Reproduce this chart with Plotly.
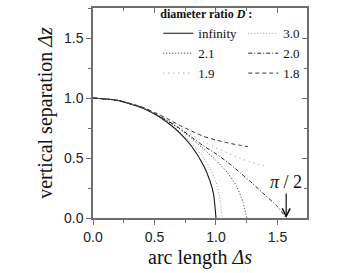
import plotly.graph_objects as go

# ---- data ----
s_inf = [0.0, 0.2, 0.4, 0.5, 0.6, 0.7, 0.8, 0.9, 0.95, 0.98, 1.0]
z_inf = [1.0, 0.98, 0.917, 0.866, 0.80, 0.714, 0.60, 0.436, 0.312, 0.2, 0.0]

s_30 = [0.0, 0.2, 0.4, 0.5, 0.6, 0.7, 0.8, 0.9, 0.95, 1.0, 1.03, 1.05]
z_30 = [1.0, 0.98, 0.918, 0.868, 0.805, 0.725, 0.625, 0.50, 0.42, 0.30, 0.18, 0.0]

s_21 = [0.0, 0.2, 0.4, 0.5, 0.6, 0.7, 0.8, 0.9, 1.0, 1.1, 1.17, 1.22, 1.25]
z_21 = [1.0, 0.98, 0.92, 0.87, 0.81, 0.745, 0.665, 0.575, 0.48, 0.37, 0.26, 0.13, 0.0]

s_20 = [0.0, 0.2, 0.4, 0.5, 0.6, 0.7, 0.8, 0.9, 1.0, 1.1, 1.2, 1.3, 1.4, 1.5, 1.5708]
z_20 = [1.0, 0.98, 0.92, 0.872, 0.815, 0.75, 0.675, 0.60, 0.535, 0.46, 0.375, 0.285, 0.19, 0.095, 0.0]

s_19 = [0.0, 0.2, 0.4, 0.5, 0.6, 0.7, 0.8, 0.9, 1.0, 1.1, 1.2, 1.3, 1.41]
z_19 = [1.0, 0.98, 0.92, 0.875, 0.82, 0.76, 0.695, 0.635, 0.585, 0.54, 0.495, 0.46, 0.43]

s_18 = [0.0, 0.2, 0.4, 0.5, 0.6, 0.7, 0.8, 0.9, 1.0, 1.1, 1.2, 1.26]
z_18 = [1.0, 0.98, 0.925, 0.88, 0.83, 0.775, 0.725, 0.68, 0.65, 0.625, 0.605, 0.595]

x_ticks = [0.0, 0.5, 1.0, 1.5]
x_ticklabels = ["0.0", "0.5", "1.0", "1.5"]
y_ticks = [0.0, 0.5, 1.0, 1.5]
y_ticklabels = ["0.0", "0.5", "1.0", "1.5"]
arrow_x = 1.5708
arrow_y = 0.0

series = [
    ("infinity", s_inf, z_inf, dict(color="#111111", width=1.1, dash="solid")),
    ("3.0", s_30, z_30, dict(color="#9a9a9a", width=1.0, dash="1px,2px")),
    ("2.1", s_21, z_21, dict(color="#222222", width=1.0, dash="1px,2px")),
    ("2.0", s_20, z_20, dict(color="#222222", width=1.0, dash="4px,2px,1px,2px")),
    ("1.9", s_19, z_19, dict(color="#8a8a8a", width=1.0, dash="1px,4px")),
    ("1.8", s_18, z_18, dict(color="#333333", width=1.0, dash="4px,3px")),
]

fig = go.Figure()
for name, xs, ys, ln in series:
    fig.add_trace(go.Scatter(x=xs, y=ys, mode="lines", name=name,
                             line=dict(shape="spline", smoothing=0.6, **ln)))

axcol = "#6e6e6e"
tickfont = dict(family="Liberation Sans, Arial", size=14, color="#222222")
titlefont = dict(family="Liberation Serif, Times New Roman", size=20, color="#111111")
XR = [0, 1.74]
YR = [0, 1.75]

fig.update_layout(
    width=363, height=273,
    margin=dict(l=93, r=56, t=8, b=55, autoexpand=False),
    paper_bgcolor="white", plot_bgcolor="white",
    showlegend=True,
    legend=dict(
        title=dict(text="<b>diameter ratio <i>D</i> :</b>", side="top",
                   font=dict(family="Liberation Serif", size=12, color="#111111")),
        orientation="h", entrywidth=40, entrywidthmode="pixels",
        x=0.305, xanchor="left", y=1.025, yanchor="top",
        font=dict(family="Liberation Serif", size=13, color="#111111"),
        bgcolor="rgba(0,0,0,0)", borderwidth=0, tracegroupgap=0,
    ),
    xaxis=dict(range=XR, showgrid=False, zeroline=False, showline=True,
               linecolor=axcol, linewidth=1.5, ticks="outside", ticklen=5,
               tickcolor=axcol, tickwidth=1.2, tickvals=x_ticks, ticktext=x_ticklabels,
               tickfont=tickfont,
               minor=dict(ticks="outside", ticklen=3, dtick=0.25, tick0=0,
                          tickcolor=axcol, showgrid=False),
               title=dict(text="arc length <i>Δs</i>", font=titlefont, standoff=6)),
    yaxis=dict(range=YR, showgrid=False, zeroline=False, showline=True,
               linecolor=axcol, linewidth=1.5, ticks="outside", ticklen=5,
               tickcolor=axcol, tickwidth=1.2, tickvals=y_ticks, ticktext=y_ticklabels,
               tickfont=tickfont,
               minor=dict(ticks="outside", ticklen=3, dtick=0.25, tick0=0,
                          tickcolor=axcol, showgrid=False),
               title=dict(text="vertical separation <i>Δz</i>", font=titlefont, standoff=6)),
    xaxis2=dict(range=XR, overlaying="x", side="top", anchor="y", showgrid=False,
                zeroline=False, showline=True, linecolor=axcol, linewidth=1.5,
                ticks="inside", ticklen=5, tickcolor=axcol, tickwidth=1.2,
                tickvals=x_ticks, showticklabels=False,
                minor=dict(ticks="inside", ticklen=3, dtick=0.25, tick0=0,
                           tickcolor=axcol, showgrid=False)),
    yaxis2=dict(range=YR, overlaying="y", side="right", anchor="x", showgrid=False,
                zeroline=False, showline=True, linecolor=axcol, linewidth=1.5,
                ticks="inside", ticklen=5, tickcolor=axcol, tickwidth=1.2,
                tickvals=y_ticks, showticklabels=False,
                minor=dict(ticks="inside", ticklen=3, dtick=0.25, tick0=0,
                           tickcolor=axcol, showgrid=False)),
)

fig.add_trace(go.Scatter(x=[], y=[], xaxis="x2", yaxis="y2", showlegend=False,
                         hoverinfo="skip"))

fig.add_annotation(x=arrow_x, y=arrow_y, xref="x", yref="y",
                   text="<i>π</i> / 2", showarrow=True, arrowhead=5, arrowsize=1.3,
                   arrowwidth=1.2, arrowcolor="#111111", ax=0, ay=-36,
                   font=dict(family="Liberation Serif", size=18, color="#111111"))

fig.write_html("out.html", config={"displayModeBar": False},
               post_script="document.body.style.margin='0';")
